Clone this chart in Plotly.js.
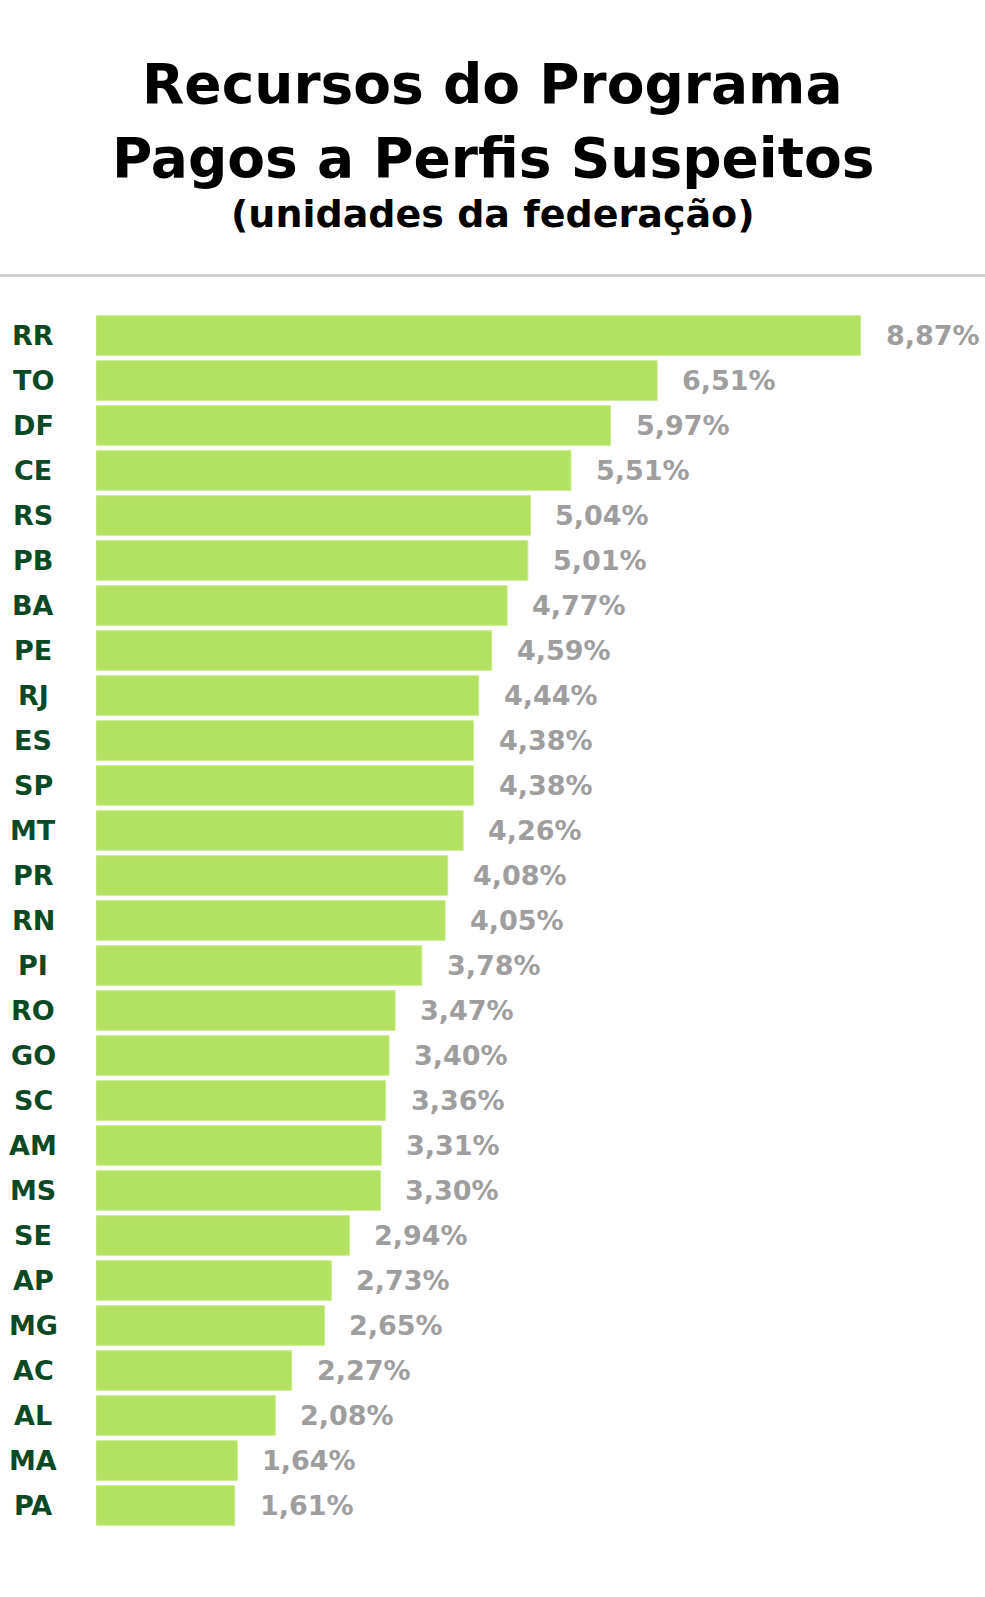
<!DOCTYPE html>
<html>
<head>
<meta charset="utf-8">
<script src="https://cdn.plot.ly/plotly-3.0.1.min.js"></script>
<style>html,body{margin:0;padding:0;background:#fff;}#chart{width:985px;height:1597px;}</style>
</head>
<body>
<div id="chart"></div>
<script>
const estados = ["RR","TO","DF","CE","RS","PB","BA","PE","RJ","ES","SP","MT","PR","RN","PI","RO","GO","SC","AM","MS","SE","AP","MG","AC","AL","MA","PA"];
const percentuais = [8.87,6.51,5.97,5.51,5.04,5.01,4.77,4.59,4.44,4.38,4.38,4.26,4.08,4.05,3.78,3.47,3.40,3.36,3.31,3.30,2.94,2.73,2.65,2.27,2.08,1.64,1.61];
const rotulos = ["8,87%","6,51%","5,97%","5,51%","5,04%","5,01%","4,77%","4,59%","4,44%","4,38%","4,38%","4,26%","4,08%","4,05%","3,78%","3,47%","3,40%","3,36%","3,31%","3,30%","2,94%","2,73%","2,65%","2,27%","2,08%","1,64%","1,61%"];
const titulo1 = "Recursos do Programa";
const titulo2 = "Pagos a Perfis Suspeitos";
const subtitulo = "(unidades da federação)";

const W = 985, H = 1597;
const mL = 96, mR = 0, mT = 313, mB = 69;
const plotW = W - mL - mR, plotH = H - mT - mB;
const FONT = "DejaVu Sans, sans-serif";
function py(Y){ return (H - mB - Y) / plotH; }
function px(X){ return (X - mL) / plotW; }

const trace = {
  type: "bar",
  orientation: "h",
  x: percentuais,
  y: estados,
  marker: {color: "#b3e161", line: {color: "#c9ec8c", width: 1}},
  width: 0.88,
  hoverinfo: "none"
};

const annotations = [];
estados.forEach((e, i) => {
  annotations.push({
    x: px(33), xref: "paper", y: e, yref: "y",
    text: "<b>" + e + "</b>", showarrow: false, xanchor: "center", yanchor: "middle",
    font: {family: FONT, size: 27, color: "#0b4824"}
  });
  annotations.push({
    x: percentuais[i], xref: "x", y: e, yref: "y",
    text: "<b>" + rotulos[i] + "</b>", showarrow: false, xanchor: "left", yanchor: "middle",
    xshift: 23,
    font: {family: FONT, size: 27, color: "#9e9e9e"}
  });
});
const cx = px(W / 2);
annotations.push({x: cx, xref: "paper", y: py(84), yref: "paper", text: "<b>" + titulo1 + "</b>", showarrow: false, xanchor: "center", yanchor: "middle", font: {family: FONT, size: 55, color: "#000"}});
annotations.push({x: cx, xref: "paper", y: py(158), yref: "paper", text: "<b>" + titulo2 + "</b>", showarrow: false, xanchor: "center", yanchor: "middle", font: {family: FONT, size: 55, color: "#000"}});
annotations.push({x: cx, xref: "paper", y: py(214), yref: "paper", text: "<b>" + subtitulo + "</b>", showarrow: false, xanchor: "center", yanchor: "middle", font: {family: FONT, size: 38, color: "#000"}});

const layout = {
  width: W, height: H,
  margin: {l: mL, r: mR, t: mT, b: mB, pad: 0},
  paper_bgcolor: "#fff", plot_bgcolor: "#fff",
  showlegend: false,
  bargap: 0.12,
  xaxis: {range: [0, plotW / 86.2], visible: false, fixedrange: true},
  yaxis: {type: "category", autorange: "reversed", visible: false, fixedrange: true},
  annotations: annotations,
  shapes: [{type: "line", xref: "paper", yref: "paper", x0: px(0), x1: px(W), y0: py(275.5), y1: py(275.5), line: {color: "#d3d3d3", width: 3}}]
};

Plotly.newPlot("chart", [trace], layout, {displayModeBar: false, staticPlot: true});
</script>
</body>
</html>
